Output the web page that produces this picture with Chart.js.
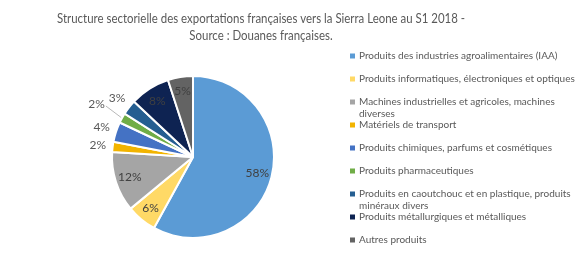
<!DOCTYPE html>
<html>
<head>
<meta charset="utf-8">
<script src="https://cdn.jsdelivr.net/npm/chart.js@4.4.1/dist/chart.umd.min.js"></script>
<style>
  html, body { margin: 0; padding: 0; background: #ffffff; }
  #wrap { width: 588px; height: 270px; position: relative; }
</style>
</head>
<body>
<div id="wrap"><canvas id="c" width="588" height="270"></canvas></div>
<script>
const titleLines = [
  "Structure sectorielle des exportations françaises vers la Sierra Leone au S1 2018 -",
  "Source : Douanes françaises."
];
const categories = [
  "Produits des industries agroalimentaires (IAA)",
  "Produits informatiques, électroniques et optiques",
  "Machines industrielles et agricoles, machines diverses",
  "Matériels de transport",
  "Produits chimiques, parfums et cosmétiques",
  "Produits pharmaceutiques",
  "Produits en caoutchouc et en plastique, produits minéraux divers",
  "Produits métallurgiques et métalliques",
  "Autres produits"
];
const shares = [58, 6, 12, 2, 4, 2, 3, 8, 5];
const sliceColors = ["#5B9BD5", "#FFD966", "#A5A5A5", "#F2B400", "#4472C4", "#70AD47", "#255E91", "#0E2352", "#636363"];

const FONT = "Lato, 'Open Sans', sans-serif";
const TEXT = "#595959";

const extraOut = {5: 14};

const sliceLabels = {
  id: 'sliceLabels',
  afterDatasetsDraw(chart) {
    const ctx = chart.ctx;
    const meta = chart.getDatasetMeta(0);
    ctx.save();
    ctx.font = "12px " + FONT;
    ctx.textAlign = "center";
    ctx.textBaseline = "middle";
    meta.data.forEach((arc, i) => {
      const p = arc.getProps(['x', 'y', 'startAngle', 'endAngle', 'outerRadius'], true);
      const mid = (p.startAngle + p.endAngle) / 2;
      const v = shares[i];
      const txt = v + "%";
      let r;
      const extra = extraOut[i] || 0;
      if (v >= 5) r = p.outerRadius * 0.82; else r = p.outerRadius + 15 + extra;
      const lx = p.x + Math.cos(mid) * r, ly = p.y + Math.sin(mid) * r;
      if (extra > 0) {
        const tw = ctx.measureText(txt).width;
        ctx.strokeStyle = "#A6A6A6";
        ctx.lineWidth = 0.8;
        ctx.beginPath();
        ctx.moveTo(lx + tw / 2 + 1, ly + 2);
        ctx.lineTo(p.x + Math.cos(mid) * (p.outerRadius + 1), p.y + Math.sin(mid) * (p.outerRadius + 1));
        ctx.stroke();
      }
      ctx.fillStyle = v >= 5 ? "#404040" : TEXT;
      ctx.fillText(txt, lx, ly);
    });
    ctx.restore();
  }
};

function wrap(ctx, text, maxW) {
  const words = text.split(" ");
  const lines = [];
  let cur = "";
  words.forEach(w => {
    const t = cur ? cur + " " + w : w;
    if (ctx.measureText(t).width > maxW && cur) { lines.push(cur); cur = w; } else cur = t;
  });
  if (cur) lines.push(cur);
  return lines;
}

function fitText(ctx, text, cx, cy, scale) {
  ctx.save();
  ctx.translate(cx, cy);
  ctx.scale(scale, 1);
  ctx.fillText(text, 0, 0);
  ctx.restore();
}

const decor = {
  id: 'decor',
  afterDraw(chart) {
    const ctx = chart.ctx;
    ctx.save();
    // title
    ctx.fillStyle = TEXT;
    ctx.font = "13px " + FONT;
    ctx.textAlign = "center";
    ctx.textBaseline = "middle";
    const w0 = ctx.measureText(titleLines[0]).width;
    const sc = Math.min(1, 408 / w0);
    fitText(ctx, titleLines[0], 261, 19, sc);
    fitText(ctx, titleLines[1], 261, 36, sc);
    // legend
    ctx.font = "10px " + FONT;
    ctx.textAlign = "left";
    const x0 = 350, tx = 359, y0 = 56, step = 23;
    categories.forEach((c, i) => {
      const y = y0 + i * step;
      ctx.fillStyle = sliceColors[i];
      ctx.fillRect(x0, y - 2.5, 5, 5);
      ctx.fillStyle = TEXT;
      const lines = wrap(ctx, c, 222);
      lines.forEach((ln, k) => ctx.fillText(ln, tx, y + k * 12));
    });
    ctx.restore();
  }
};

new Chart(document.getElementById('c'), {
  type: 'pie',
  data: {
    labels: categories,
    datasets: [{
      data: shares,
      backgroundColor: sliceColors,
      borderColor: "#ffffff",
      borderWidth: 2
    }]
  },
  options: {
    responsive: false,
    devicePixelRatio: 1,
    animation: false,
    layout: { padding: { left: 111, right: 313, top: 75, bottom: 31 } },
    plugins: { legend: { display: false }, tooltip: { enabled: false }, title: { display: false } }
  },
  plugins: [sliceLabels, decor]
});
</script>
</body>
</html>
